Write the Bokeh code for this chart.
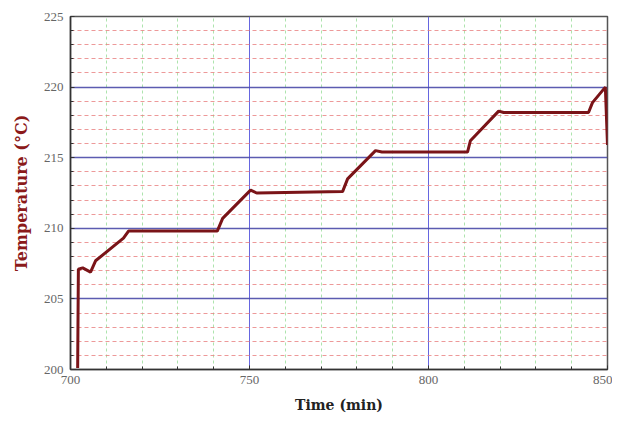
from bokeh.plotting import figure
from bokeh.models import FixedTicker, Range1d
from bokeh.embed import file_html
from bokeh.resources import INLINE

time_min = [702.0, 702.2, 703.4, 705.6, 707.0, 714.8, 716.2, 741.0, 742.5, 750.3, 752.0,
            776.0, 777.4, 785.2, 787.0, 810.9, 811.7, 819.6, 821.0, 844.7, 845.8, 849.4, 850.0]
temperature = [200.1, 207.1, 207.2, 206.9, 207.7, 209.3, 209.8, 209.8, 210.7, 212.7, 212.5,
               212.6, 213.5, 215.5, 215.4, 215.4, 216.2, 218.3, 218.2, 218.2, 218.9, 220.0, 215.9]

x_ticks = [700, 750, 800, 850]
x_minor = [710, 720, 730, 740, 760, 770, 780, 790, 810, 820, 830, 840]
y_ticks = [200, 205, 210, 215, 220, 225]
y_minor = [201, 202, 203, 204, 206, 207, 208, 209, 211, 212, 213, 214,
           216, 217, 218, 219, 221, 222, 223, 224]

p = figure(width=612, height=417, output_backend="svg", toolbar_location=None,
           x_range=Range1d(700, 850), y_range=Range1d(200, 225),
           min_border_left=70, min_border_right=5, min_border_top=16, min_border_bottom=48)

p.xaxis.ticker = FixedTicker(ticks=x_ticks, minor_ticks=x_minor)
p.yaxis.ticker = FixedTicker(ticks=y_ticks, minor_ticks=y_minor)
p.xgrid.ticker = p.xaxis.ticker
p.ygrid.ticker = p.yaxis.ticker

p.xgrid.grid_line_color = "#6666e0"
p.xgrid.grid_line_alpha = 1.0
p.xgrid.minor_grid_line_color = "#99dd99"
p.xgrid.minor_grid_line_dash = "3 3"
p.xgrid.minor_grid_line_alpha = 0.8

p.ygrid.grid_line_color = "#4a4aa8"
p.ygrid.grid_line_alpha = 0.9
p.ygrid.grid_line_width = 1.3
p.ygrid.minor_grid_line_color = "#e88080"
p.ygrid.minor_grid_line_dash = "4 3"
p.ygrid.minor_grid_line_alpha = 0.8

p.outline_line_color = "#555555"
p.outline_line_width = 1.5

for ax in (p.xaxis, p.yaxis):
    ax.axis_line_color = "#333333"
    ax.axis_line_width = 1.5
    ax.major_tick_in = 4
    ax.major_tick_out = 0
    ax.minor_tick_in = 3
    ax.minor_tick_out = 0
    ax.major_tick_line_color = "#333333"
    ax.minor_tick_line_color = "#333333"
    ax.major_label_text_font = "Liberation Serif"
    ax.major_label_text_font_size = "13px"
    ax.major_label_text_color = "#666666"

p.xaxis.axis_label = "Time (min)"
p.xaxis.axis_label_text_font = "DejaVu Serif"
p.xaxis.axis_label_text_font_style = "bold"
p.xaxis.axis_label_text_font_size = "14px"
p.xaxis.axis_label_text_color = "#222222"
p.xaxis.axis_label_standoff = 10
p.xaxis.major_label_standoff = 6

p.yaxis.axis_label = "Temperature (\u00b0C)"
p.yaxis.axis_label_text_font = "DejaVu Serif"
p.yaxis.axis_label_text_font_style = "bold"
p.yaxis.axis_label_text_font_size = "16px"
p.yaxis.axis_label_text_color = "#8b1a1a"
p.yaxis.axis_label_standoff = 10
p.yaxis.major_label_standoff = 7

p.line(time_min, temperature, line_color="#7a1418", line_width=3)

open("out.html", "w").write(file_html(p, INLINE))
